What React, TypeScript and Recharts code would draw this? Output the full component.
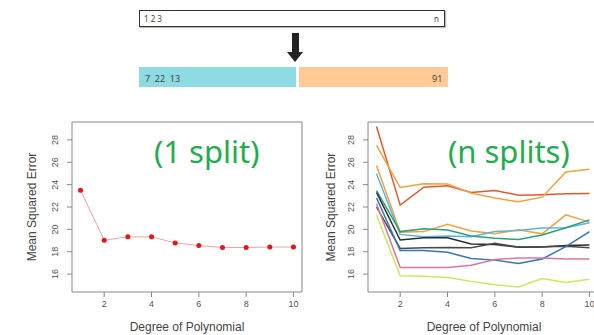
import { LineChart, Line, XAxis, YAxis, ReferenceArea } from 'recharts';

const degrees = [1, 2, 3, 4, 5, 6, 7, 8, 9, 10];
const oneSplit = [23.5, 19.03, 19.33, 19.33, 18.79, 18.55, 18.38, 18.38, 18.42, 18.42];

const splitRedOrange = [29.2, 22.17, 23.77, 23.9, 23.3, 23.48, 23.06, 23.1, 23.18, 23.2];
const splitOrangeHigh = [27.5, 23.74, 24.07, 24.05, 23.24, 22.8, 22.46, 22.88, 25.14, 25.38];
const splitOrangeLow = [25.72, 19.75, 19.8, 20.45, 19.85, 19.6, 19.97, 19.6, 21.3, 20.65];
const splitLightBlue = [24.98, 19.55, 19.35, 19.4, 19.35, 19.8, 19.9, 20.12, 20.14, 20.6];
const splitGreen = [23.47, 19.8, 20.05, 19.95, 19.4, 19.2, 19.1, 19.5, 20.15, 20.85];
const splitBlack = [23.3, 19.05, 19.25, 19.25, 18.7, 18.65, 18.4, 18.42, 18.55, 18.6];
const splitGray = [22.0, 18.3, 18.35, 18.38, 18.35, 18.75, 18.42, 18.45, 18.5, 18.35];
const splitBlue = [22.8, 18.1, 18.1, 17.95, 17.4, 17.25, 16.95, 17.35, 18.45, 19.8];
const splitPink = [22.3, 16.6, 16.6, 16.6, 16.8, 17.3, 17.45, 17.45, 17.35, 17.35];
const splitYellow = [21.3, 15.85, 15.8, 15.7, 15.35, 15.05, 14.85, 15.6, 15.25, 15.55];

const xTicks = [2, 4, 6, 8, 10];
const yTicks = [16, 18, 20, 22, 24, 26, 28];

const X_DOMAIN: [number, number] = [0.64, 10.36];
const Y_DOMAIN: [number, number] = [14.4, 29.6];

const splitSeries = [
  { key: 's1', values: splitRedOrange, color: '#e4572e' },
  { key: 's2', values: splitOrangeHigh, color: '#f6a03c' },
  { key: 's3', values: splitOrangeLow, color: '#f6a03c' },
  { key: 's4', values: splitLightBlue, color: '#56b4e9' },
  { key: 's5', values: splitGreen, color: '#26a478' },
  { key: 's6', values: splitBlack, color: '#2b2b2b' },
  { key: 's7', values: splitGray, color: '#4a4a4a' },
  { key: 's8', values: splitBlue, color: '#2e77c0' },
  { key: 's9', values: splitPink, color: '#e4739c' },
  { key: 's10', values: splitYellow, color: '#d4e35c' },
];

const oneSplitData = degrees.map((d, i) => ({ degree: d, mse: oneSplit[i] }));
const manySplitData = degrees.map((d, i) => {
  const row: Record<string, number> = { degree: d };
  splitSeries.forEach((s) => {
    row[s.key] = s.values[i];
  });
  return row;
});

const AXIS_FONT = '"Liberation Sans", Arial, sans-serif';

function YTick(props: any) {
  const { x, y, payload } = props;
  const bx = x - 7;
  return (
    <text
      x={bx}
      y={y}
      transform={`rotate(-90, ${bx}, ${y})`}
      textAnchor="middle"
      fontSize={9}
      fill="#555"
      fontFamily={AXIS_FONT}
    >
      {payload.value}
    </text>
  );
}

function XTick(props: any) {
  const { x, y, payload } = props;
  return (
    <text x={x} y={y + 8} textAnchor="middle" fontSize={9} fill="#555" fontFamily={AXIS_FONT}>
      {payload.value}
    </text>
  );
}

function Panel({ children, data }: { children: React.ReactNode; data: any[] }) {
  return (
    <LineChart width={303} height={335} data={data} margin={{ top: 122, right: 1, bottom: 0, left: 0 }}>
      <XAxis
        dataKey="degree"
        type="number"
        domain={X_DOMAIN}
        ticks={xTicks}
        interval={0}
        axisLine={false}
        tickLine={{ stroke: '#888' }}
        tickSize={5}
        height={43}
        tick={<XTick />}
        allowDataOverflow
      />
      <YAxis
        type="number"
        domain={Y_DOMAIN}
        ticks={yTicks}
        interval={0}
        axisLine={false}
        tickLine={{ stroke: '#888' }}
        tickSize={5}
        width={72}
        tick={<YTick />}
        allowDataOverflow
      />
      <ReferenceArea
        x1={X_DOMAIN[0]}
        x2={X_DOMAIN[1]}
        y1={Y_DOMAIN[0]}
        y2={Y_DOMAIN[1]}
        fill="none"
        stroke="#888"
        strokeWidth={1}
      />
      {children}
    </LineChart>
  );
}

function SplitDiagram() {
  const label = { position: 'absolute' as const, fontSize: 8, color: '#444', fontFamily: '"Noto Sans", sans-serif' };
  return (
    <>
      <div
        style={{
          position: 'absolute',
          left: 139,
          top: 10,
          width: 304,
          height: 15,
          border: '1.5px solid #333',
          boxShadow: '1px 1px 1px #bbb',
          background: '#fff',
        }}
      />
      <div style={{ ...label, left: 144, top: 13 }}>1 2 3</div>
      <div style={{ ...label, left: 434, top: 13 }}>n</div>

      <div style={{ position: 'absolute', left: 292, top: 33, width: 7, height: 20, background: '#222' }} />
      <div
        style={{
          position: 'absolute',
          left: 287,
          top: 52,
          width: 0,
          height: 0,
          borderLeft: '8.5px solid transparent',
          borderRight: '8.5px solid transparent',
          borderTop: '10px solid #222',
        }}
      />

      <div style={{ position: 'absolute', left: 139, top: 67, width: 157, height: 20, background: '#8fdbe3' }} />
      <div style={{ position: 'absolute', left: 299, top: 67, width: 149, height: 20, background: '#ffca96' }} />
      <div style={{ ...label, fontSize: 9, left: 145, top: 72 }}>7&nbsp;&nbsp;22&nbsp;&nbsp;13</div>
      <div style={{ ...label, fontSize: 9, left: 432, top: 72 }}>91</div>
    </>
  );
}

function Titles() {
  return (
    <svg width={594} height={335} style={{ position: 'absolute', left: 0, top: 0, pointerEvents: 'none' }}>
      <text x={32} y={207} transform="rotate(-90, 32, 207)" textAnchor="middle" dominantBaseline="central" fontSize={12} fill="#444" fontFamily={AXIS_FONT}>
        Mean Squared Error
      </text>
      <text x={187} y={331} textAnchor="middle" fontSize={12} fill="#444" fontFamily={AXIS_FONT}>
        Degree of Polynomial
      </text>
      <text x={331} y={207} transform="rotate(-90, 331, 207)" textAnchor="middle" dominantBaseline="central" fontSize={12} fill="#444" fontFamily={AXIS_FONT}>
        Mean Squared Error
      </text>
      <text x={484} y={331} textAnchor="middle" fontSize={12} fill="#444" fontFamily={AXIS_FONT}>
        Degree of Polynomial
      </text>
      <text x={154} y={163} fontSize={31} fill="#1fad4e" fontFamily='"Noto Sans", sans-serif'>
        (1 split)
      </text>
      <text x={448} y={163} fontSize={31} fill="#1fad4e" fontFamily='"Noto Sans", sans-serif'>
        (n splits)
      </text>
    </svg>
  );
}

export default function App() {
  return (
    <div
      style={{
        position: 'fixed',
        left: 0,
        top: 0,
        width: 594,
        height: 335,
        overflow: 'hidden',
        background: '#fff',
      }}
    >
      <SplitDiagram />
      <div style={{ position: 'absolute', left: 0, top: 0 }}>
        <Panel data={oneSplitData}>
          <Line
            dataKey="mse"
            stroke="#ff9e9e"
            strokeWidth={1}
            dot={{ r: 2.5, fill: '#ee1111', stroke: 'none' }}
            isAnimationActive={false}
          />
        </Panel>
      </div>
      <div style={{ position: 'absolute', left: 296, top: 0 }}>
        <Panel data={manySplitData}>
          {splitSeries.map((s) => (
            <Line
              key={s.key}
              dataKey={s.key}
              stroke={s.color}
              strokeWidth={1.5}
              dot={false}
              isAnimationActive={false}
            />
          ))}
        </Panel>
      </div>
      <Titles />
    </div>
  );
}
